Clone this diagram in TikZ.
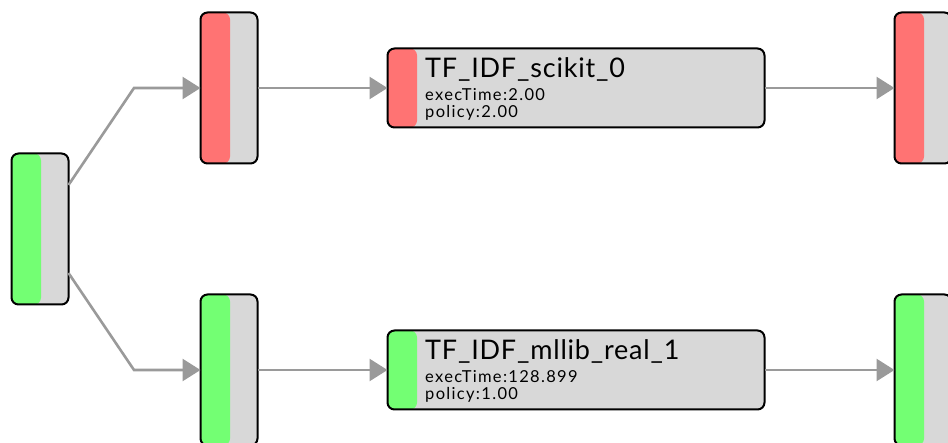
\documentclass[tikz,border=0pt]{standalone}
\usepackage{fontspec}
\setmainfont{Lato}
\newfontfamily\titlefont[LetterSpace=3]{Lato}
\newfontfamily\infofont[LetterSpace=8]{Lato}
\usetikzlibrary{arrows.meta}
\definecolor{stripred}{HTML}{FF7373}
\definecolor{stripgreen}{HTML}{73FF73}
\definecolor{boxgray}{HTML}{D8D8D8}
\definecolor{edgegray}{HTML}{9A9A9A}
\tikzset{
  box/.style={draw=black, line width=2pt, rounded corners=7pt, fill=boxgray, inner sep=0pt, outer sep=0pt},
  tallbox/.style={box, minimum width=57pt, minimum height=151pt},
  taskbox/.style={box, minimum width=377pt, minimum height=79pt},
  stripe/.style={path picture={\fill[#1] (path picture bounding box.north west) rectangle ([xshift=29.5pt]path picture bounding box.south west);}},
  edge/.style={draw=edgegray, line width=2.6pt, -{Triangle[length=18pt,width=22pt,fill=edgegray]}},
  title/.style={anchor=base west, inner sep=0pt, font=\titlefont\fontsize{27}{27}\selectfont},
  info/.style={anchor=base west, inner sep=0pt, font=\infofont\fontsize{16.5}{16.5}\selectfont},
}
\begin{document}
\begin{tikzpicture}[x=1pt,y=-1pt]
\useasboundingbox[fill=white] (0,0) rectangle (948,443);
% nodes
\node[tallbox, stripe=stripgreen] (n0) at (40,229) {};
\node[tallbox, stripe=stripred] (m0) at (229,88) {};
\node[tallbox, stripe=stripgreen] (m1) at (229,370) {};
\node[taskbox, stripe=stripred] (t0) at (576,88) {};
\node[taskbox, stripe=stripgreen] (t1) at (576,370) {};
\node[tallbox, stripe=stripred] (r0) at (923,88) {};
\node[tallbox, stripe=stripgreen] (r1) at (923,370) {};
% labels
\node[title] (t0a) at (425,78) {TF\_IDF\_scikit\_0};
\node[info] (t0b) at (425,101) {execTime:2.00};
\node[info] (t0c) at (425,118) {policy:2.00};
\node[title] (t1a) at (425,360) {TF\_IDF\_mllib\_real\_1};
\node[info] (t1b) at (425,383) {execTime:128.899};
\node[info] (t1c) at (425,400) {policy:1.00};
% bend points
\coordinate (c0) at (134,88);
\coordinate (c1) at (134,370);
% edges
\draw[edge] ([yshift=44pt]n0.east) -- (c0) -- (m0.west);
\draw[edge] ([yshift=-44pt]n0.east) -- (c1) -- (m1.west);
\draw[edge] (m0.east) -- (t0.west);
\draw[edge] (m1.east) -- (t1.west);
\draw[edge] (t0.east) -- (r0.west);
\draw[edge] (t1.east) -- (r1.west);
\end{tikzpicture}
\end{document}
